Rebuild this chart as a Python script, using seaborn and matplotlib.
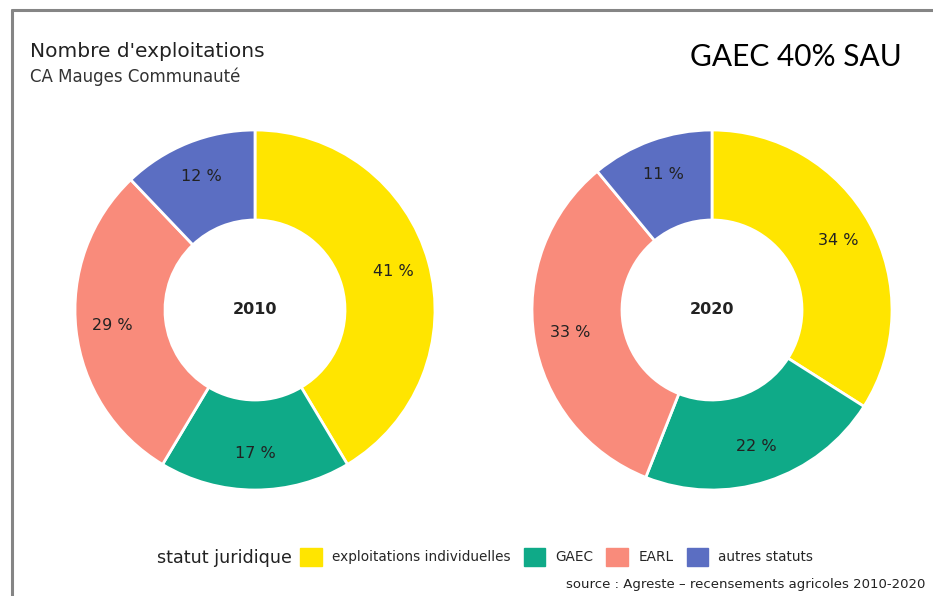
import matplotlib
matplotlib.use("Agg")
import matplotlib.pyplot as plt
import matplotlib.patches as mpatches
from matplotlib.lines import Line2D
import seaborn as sns

# data
categories = ["exploitations individuelles", "GAEC", "EARL", "autres statuts"]
years = ["2010", "2020"]
shares_2010 = [41, 17, 29, 12]
shares_2020 = [34, 22, 33, 11]
colors = ["#FFE500", "#0FAA88", "#F98B7B", "#5B6EC2"]

sns.set_style("white")
plt.rcParams["font.family"] = ["DejaVu Sans"]

W, H = 933, 596
fig = plt.figure(figsize=(W / 100, H / 100), dpi=100)
palette = sns.color_palette(colors)


def donut(cx, cy, r, values, year):
    ax = fig.add_axes([(cx - r) / W, 1 - (cy + r) / H, 2 * r / W, 2 * r / H])
    ax.pie(values, colors=palette, startangle=90, counterclock=False,
           radius=1, autopct=lambda p: f"{p:.0f} %", pctdistance=0.8,
           wedgeprops=dict(width=0.5, edgecolor="white", linewidth=2),
           textprops=dict(fontsize=11.5, color="#222222"))
    ax.text(0, 0, year, ha="center", va="center", fontsize=11.5,
            fontweight="bold", color="#222222")
    ax.set_xlim(-1, 1)
    ax.set_ylim(-1, 1)
    ax.set_axis_off()


donut(255, 310, 180, shares_2010, years[0])
donut(712, 310, 180, shares_2020, years[1])

# frame from the screenshot
fig.add_artist(Line2D([12 / W, 12 / W], [0, 1 - 10 / H], color="#858585",
                      lw=2.2, transform=fig.transFigure))
fig.add_artist(Line2D([12 / W, 1], [1 - 10 / H, 1 - 10 / H], color="#858585",
                      lw=2.2, transform=fig.transFigure))

fig.text(30 / W, 1 - 57 / H, "Nombre d'exploitations", fontsize=14.5,
         color="#222222", va="baseline")
fig.text(30 / W, 1 - 82 / H, "CA Mauges Communauté", fontsize=12,
         color="#333333", va="baseline")
fig.text(902 / W, 1 - 66 / H, "GAEC 40% SAU", fontsize=21.5, family="Lato",
         color="black", ha="right", va="baseline")

fig.text(157 / W, 1 - 563 / H, "statut juridique", fontsize=12.6,
         color="#222222", va="baseline")
handles = [mpatches.Patch(color=c, label=l) for c, l in zip(palette, categories)]
fig.legend(handles=handles, ncol=4, frameon=False, fontsize=9.8,
           loc="center left", bbox_to_anchor=(300 / W, 1 - 557 / H),
           handlelength=1.6, handleheight=1.6, handletextpad=0.75,
           columnspacing=0.95, borderaxespad=0, borderpad=0)
fig.text(566 / W, 1 - 588 / H, "source : Agreste – recensements agricoles 2010-2020",
         fontsize=9.5, color="#222222", va="baseline")

fig.savefig("out.png", dpi=100)
